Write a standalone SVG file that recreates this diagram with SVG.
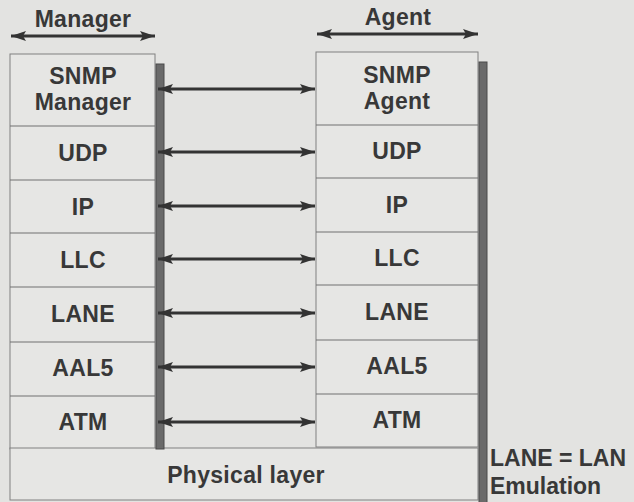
<svg xmlns="http://www.w3.org/2000/svg" width="634" height="502" viewBox="0 0 634 502">
  <defs>
    <marker id="ah" viewBox="0 0 15 10" refX="15" refY="5" markerWidth="15" markerHeight="10" markerUnits="userSpaceOnUse" orient="auto-start-reverse">
      <path d="M0,0 L15,5 L0,10 L3,5 z" fill="#333333"/>
    </marker>
  </defs>
  <style>
    .bg { fill: #e3e3e1; }
    .box { fill: #e6e6e4; stroke: #808080; stroke-width: 1; }
    .div { stroke: #707070; stroke-width: 1.2; }
    .bar { fill: #6a6a6a; stroke: #4a4a4a; stroke-width: 1; }
    .lbl { font-family: "Liberation Sans", Arial, sans-serif; font-weight: bold; font-size: 23px; letter-spacing: 0.3px; fill: #383838; text-anchor: middle; }
    .note { font-family: "Liberation Sans", Arial, sans-serif; font-weight: bold; font-size: 23px; fill: #383838; }
    .arr { stroke: #333333; stroke-width: 3; fill: none; marker-start: url(#ah); marker-end: url(#ah); }
  </style>
  <rect class="bg" x="0" y="0" width="634" height="502"/>

  <g id="title-manager">
    <text class="lbl" x="83" y="27">Manager</text>
  </g>
  <g id="title-agent">
    <text class="lbl" x="398" y="25">Agent</text>
  </g>

  <g id="manager-stack">
    <rect class="box" x="10" y="54" width="145" height="395"/>
    <line class="div" x1="10" y1="126" x2="155" y2="126"/>
    <line class="div" x1="10" y1="180" x2="155" y2="180"/>
    <line class="div" x1="10" y1="233" x2="155" y2="233"/>
    <line class="div" x1="10" y1="287" x2="155" y2="287"/>
    <line class="div" x1="10" y1="342" x2="155" y2="342"/>
    <line class="div" x1="10" y1="396" x2="155" y2="396"/>
    <text class="lbl" x="83" y="84">SNMP</text>
    <text class="lbl" x="83" y="110">Manager</text>
    <text class="lbl" x="83" y="161">UDP</text>
    <text class="lbl" x="83" y="215">IP</text>
    <text class="lbl" x="83" y="268">LLC</text>
    <text class="lbl" x="83" y="322">LANE</text>
    <text class="lbl" x="83" y="376">AAL5</text>
    <text class="lbl" x="83" y="430">ATM</text>
  </g>

  <g id="agent-stack">
    <rect class="box" x="316" y="52" width="162" height="395"/>
    <line class="div" x1="316" y1="125" x2="478" y2="125"/>
    <line class="div" x1="316" y1="178" x2="478" y2="178"/>
    <line class="div" x1="316" y1="232" x2="478" y2="232"/>
    <line class="div" x1="316" y1="285" x2="478" y2="285"/>
    <line class="div" x1="316" y1="340" x2="478" y2="340"/>
    <line class="div" x1="316" y1="394" x2="478" y2="394"/>
    <text class="lbl" x="397" y="83">SNMP</text>
    <text class="lbl" x="397" y="109">Agent</text>
    <text class="lbl" x="397" y="159">UDP</text>
    <text class="lbl" x="397" y="213">IP</text>
    <text class="lbl" x="397" y="266">LLC</text>
    <text class="lbl" x="397" y="320">LANE</text>
    <text class="lbl" x="397" y="374">AAL5</text>
    <text class="lbl" x="397" y="428">ATM</text>
  </g>

  <g id="physical-layer">
    <rect class="box" x="10" y="448" width="468" height="52"/>
    <text class="lbl" x="246" y="483">Physical layer</text>
  </g>

  <g id="manager-bar">
    <rect class="bar" x="156" y="64" width="8" height="385"/>
  </g>
  <g id="agent-bar">
    <rect class="bar" x="479" y="62" width="8" height="442"/>
  </g>

  <g id="note">
    <text class="note" x="490" y="466">LANE = LAN</text>
    <text class="note" x="490" y="494">Emulation</text>
  </g>

  <g id="connectors">
    <line class="arr" x1="11" y1="36" x2="155" y2="36"/>
    <line class="arr" x1="317" y1="34" x2="478" y2="34"/>
    <line class="arr" x1="158" y1="89" x2="315" y2="89"/>
    <line class="arr" x1="158" y1="152" x2="315" y2="152"/>
    <line class="arr" x1="158" y1="206" x2="315" y2="206"/>
    <line class="arr" x1="158" y1="259" x2="315" y2="259"/>
    <line class="arr" x1="158" y1="313" x2="315" y2="313"/>
    <line class="arr" x1="158" y1="367" x2="315" y2="367"/>
    <line class="arr" x1="158" y1="422" x2="315" y2="422"/>
  </g>
</svg>
